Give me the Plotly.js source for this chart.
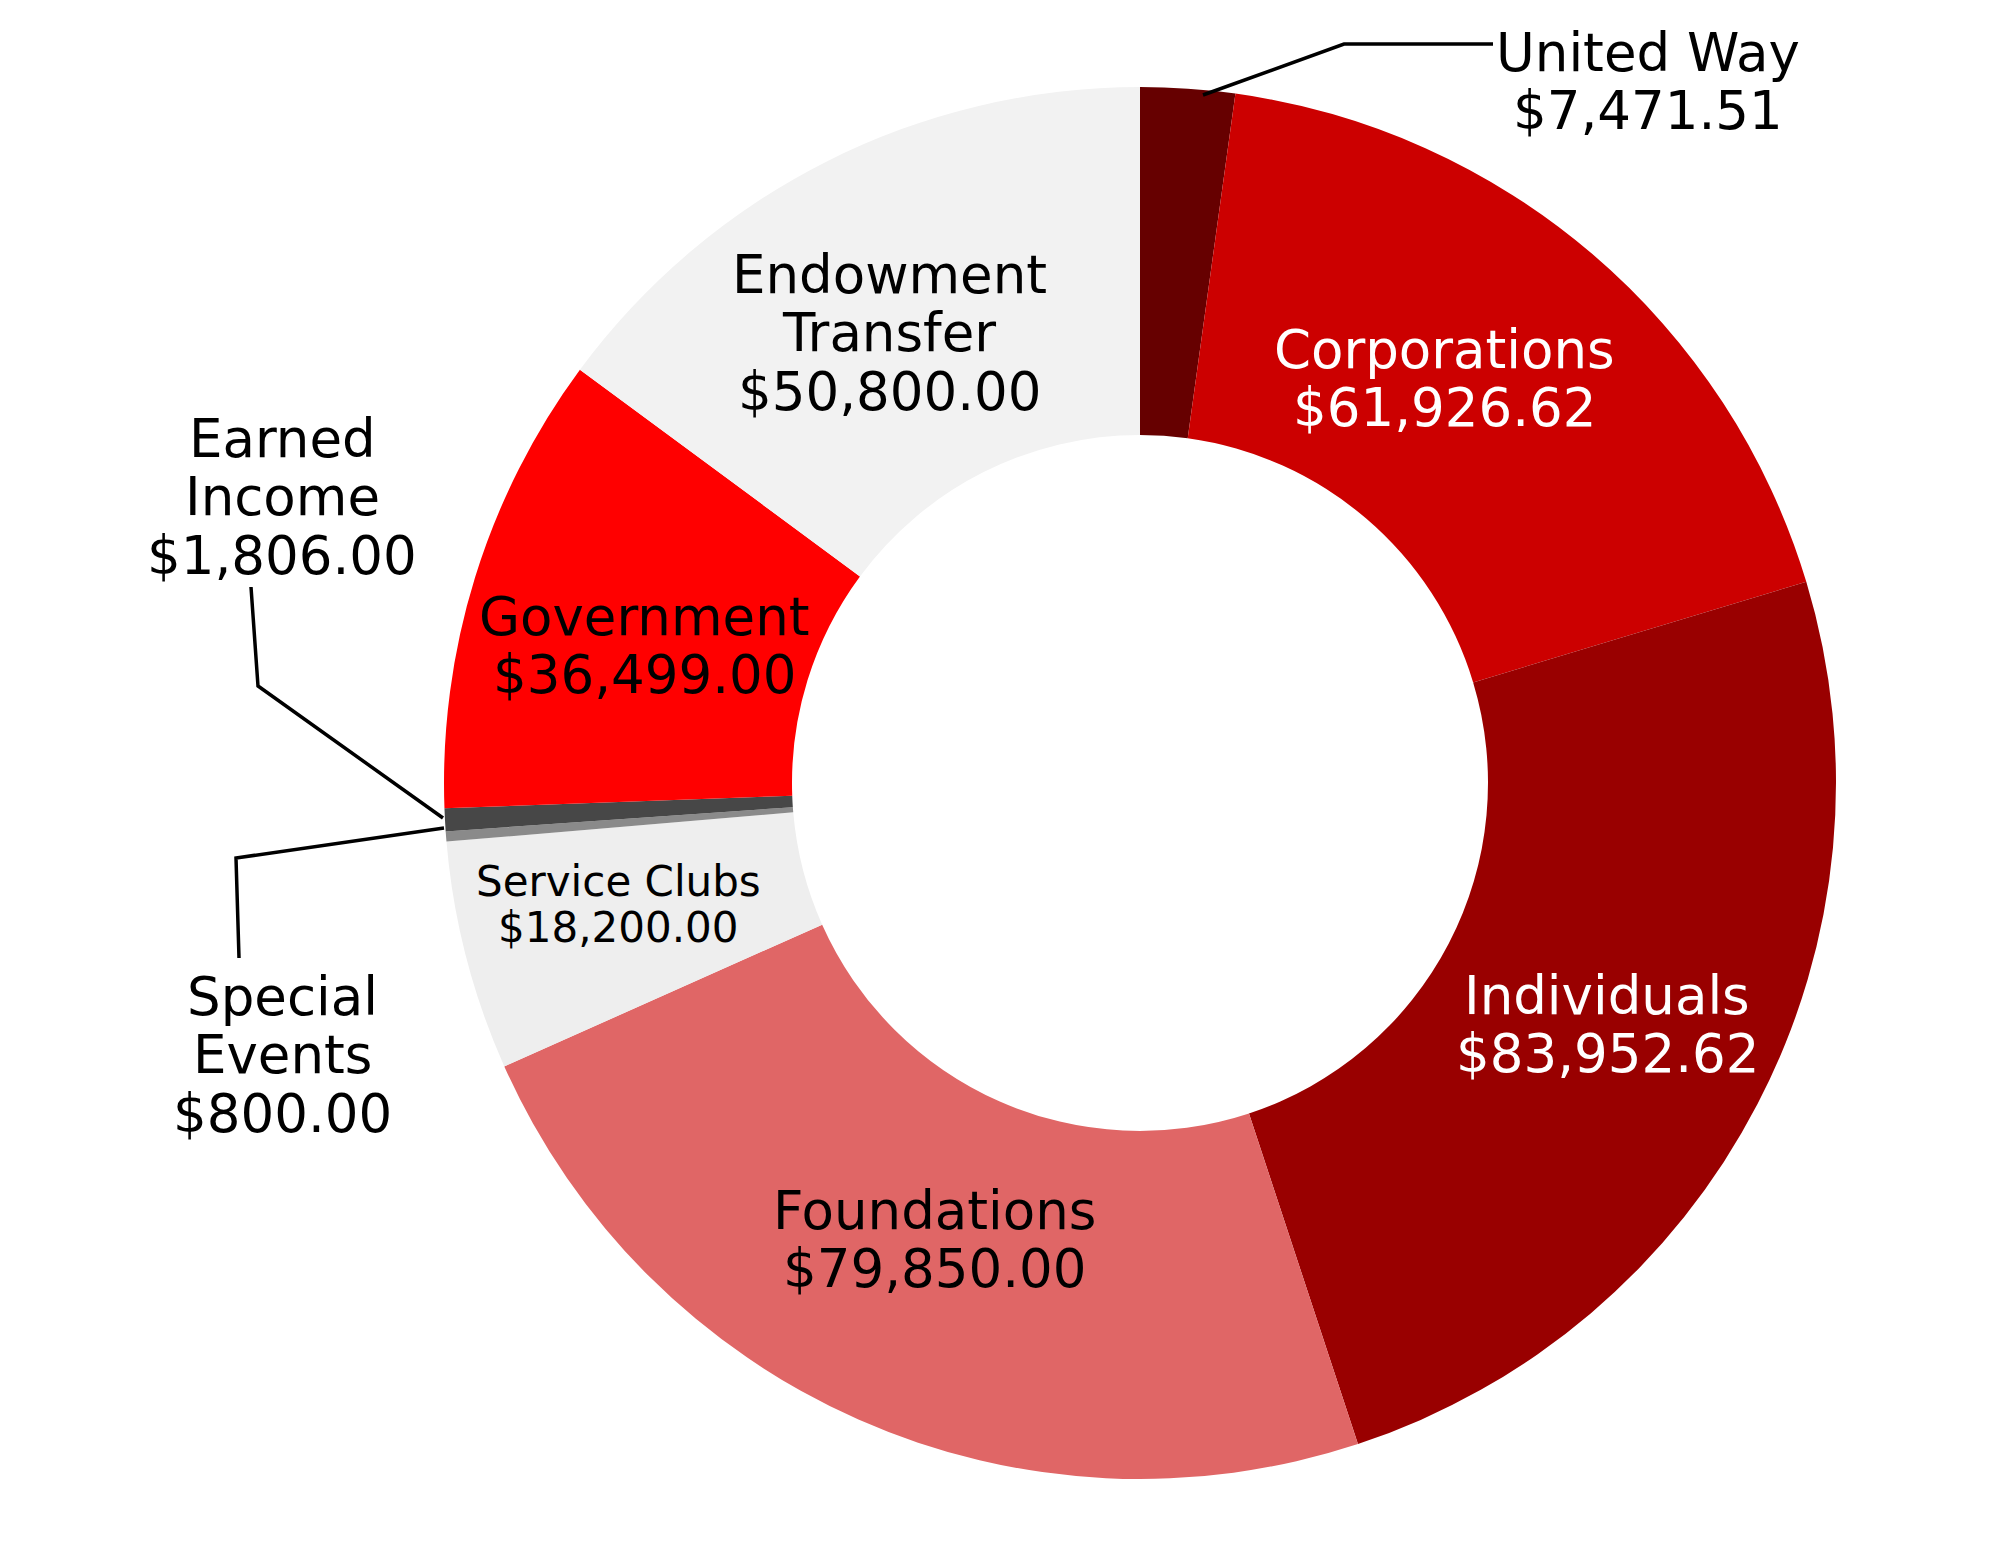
<!DOCTYPE html>
<html>
<head>
<meta charset="utf-8">
<script src="https://cdn.plot.ly/plotly-3.0.1.min.js"></script>
<style>
  html, body { margin: 0; padding: 0; background: #fff; }
  #donut { width: 2000px; height: 1545px; }
</style>
</head>
<body>
<div id="donut"></div>
<script>
// slices, clockwise from 12 o'clock
const categories = ["United Way", "Corporations", "Individuals", "Foundations", "Service Clubs",
                    "Special Events", "Earned Income", "Government", "Endowment Transfer"];
const amounts = [7471.51, 61926.62, 83952.62, 79850.00, 18200.00, 800.00, 1806.00, 36499.00, 50800.00];
const sliceColors = ["#660000", "#cc0000", "#990000", "#e06666", "#eeeeee",
                     "#8a8a8a", "#474747", "#ff0000", "#f2f2f2"];
// how each name is broken over lines in the labels
const nameLines = [["United Way"], ["Corporations"], ["Individuals"], ["Foundations"], ["Service Clubs"],
                   ["Special", "Events"], ["Earned", "Income"], ["Government"], ["Endowment", "Transfer"]];

const W = 2000, H = 1545;
const FONT = "DejaVu Sans";

// label placement in pixels: centre x, first baseline, font size, colour
const labelX    = [1648, 1444, 1607, 934, 618, 282, 282, 644, 889];
const labelY    = [71, 368, 1014, 1229, 896, 1015, 457, 635, 293];
const labelSize = [53, 53, 53, 53, 42, 53, 53, 53, 53];
const labelCol  = ["#000", "#fff", "#fff", "#000", "#000", "#000", "#000", "#000", "#000"];

// leader lines for the thin slices (pixel points)
const leaders = [
  [[1203, 95], [1344, 44], [1493, 44]],
  [[251, 587], [258, 686], [443, 818]],
  [[239, 958], [236, 858], [444, 828]]
];

function money(v) {
  return "$" + v.toLocaleString("en-US", { minimumFractionDigits: 2, maximumFractionDigits: 2 });
}
function px(x) { return x / W; }
function py(y) { return 1 - y / H; }

var annotations = [];
for (let i = 0; i < categories.length; i++) {
  let lines = nameLines[i].concat([money(amounts[i])]);
  let f = labelSize[i];
  let gap = f * 1.1;
  for (let j = 0; j < lines.length; j++) {
    let base = labelY[i] + j * gap;
    annotations.push({
      xref: "paper", yref: "paper",
      x: px(labelX[i]), y: py(base - 0.346 * f),
      xanchor: "center", yanchor: "middle",
      text: lines[j],
      showarrow: false,
      font: { family: FONT, size: f, color: labelCol[i] }
    });
  }
}

var shapes = leaders.map(function (pts) {
  let d = pts.map(function (p, k) {
    return (k ? "L" : "M") + px(p[0]) + "," + py(p[1]);
  }).join(" ");
  return {
    type: "path", xref: "paper", yref: "paper", path: d,
    line: { color: "#000", width: 3.5 }
  };
});

var data = [{
  type: "pie",
  labels: categories,
  values: amounts,
  hole: 0.5,
  sort: false,
  direction: "clockwise",
  rotation: 0,
  textinfo: "none",
  marker: { colors: sliceColors, line: { width: 0 } },
  domain: { x: [0.222, 0.918], y: [0.0427, 0.9437] },
  showlegend: false
}];

var layout = {
  width: W,
  height: H,
  margin: { l: 0, r: 0, t: 0, b: 0 },
  paper_bgcolor: "#ffffff",
  plot_bgcolor: "#ffffff",
  showlegend: false,
  annotations: annotations,
  shapes: shapes
};

Plotly.newPlot("donut", data, layout, { displayModeBar: false, staticPlot: true });
</script>
</body>
</html>
